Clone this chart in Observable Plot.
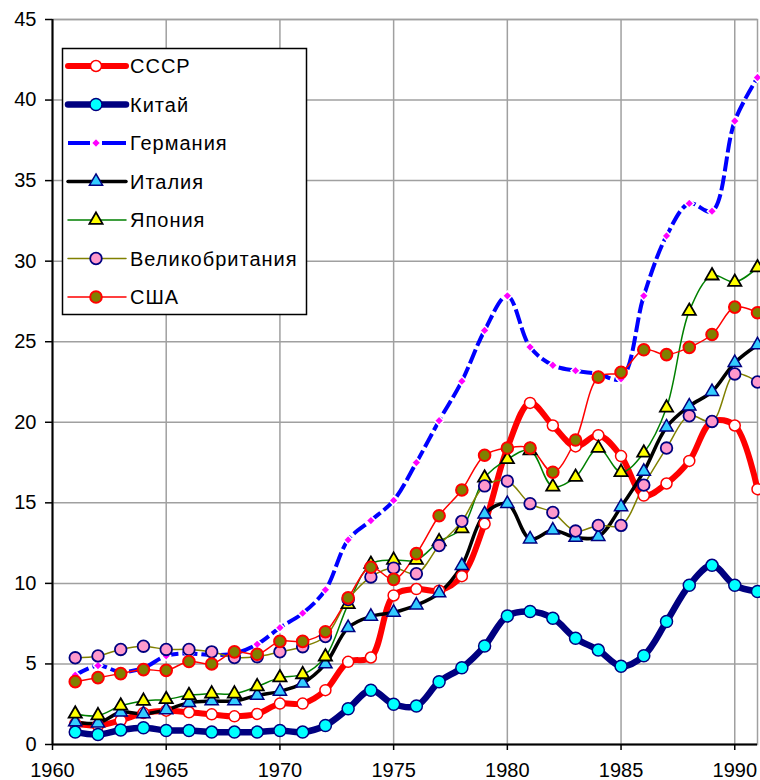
<!DOCTYPE html>
<html>
<head>
<meta charset="utf-8">
<script src="https://cdn.jsdelivr.net/npm/d3@7"></script>
<script src="https://cdn.jsdelivr.net/npm/@observablehq/plot@0.6"></script>
<style>
  html, body { margin: 0; padding: 0; background: #fff; }
  #chart { position: relative; width: 760px; height: 780px; }
</style>
</head>
<body>
<div id="chart"></div>
<script>
const years = d3.range(1961, 1992);
const xTicks = [1960, 1965, 1970, 1975, 1980, 1985, 1990];
const yTicks = [0, 5, 10, 15, 20, 25, 30, 35, 40, 45];

const seriesNames = ["СССР", "Китай", "Германия", "Италия", "Япония", "Великобритания", "США"];

const ussr = [1.3, 1.18, 1.5, 1.95, 2.1, 2.0, 1.87, 1.75, 1.9, 2.54, 2.54, 3.37, 5.13, 5.4, 9.25, 9.65, 9.55, 10.45, 13.7, 18.4, 21.2, 19.8, 18.5, 19.2, 17.9, 15.45, 16.2, 17.6, 20.05, 19.8, 15.85];
const china = [0.77, 0.62, 0.9, 1.04, 0.87, 0.87, 0.77, 0.77, 0.77, 0.87, 0.77, 1.18, 2.22, 3.37, 2.5, 2.39, 3.89, 4.76, 6.11, 7.98, 8.25, 7.84, 6.59, 5.86, 4.86, 5.51, 7.63, 9.88, 11.12, 9.88, 9.5];
const germany = [4.3, 4.9, 4.5, 4.75, 5.5, 5.65, 5.55, 5.65, 6.22, 7.25, 8.15, 9.6, 12.7, 13.9, 15.15, 17.5, 20.1, 22.55, 25.7, 27.85, 24.67, 23.54, 23.2, 23.0, 22.7, 27.85, 31.57, 33.58, 33.1, 38.7, 41.4];
const italy = [1.4, 1.33, 2.0, 1.9, 2.15, 2.6, 2.7, 2.7, 3.05, 3.3, 3.8, 5.0, 7.25, 7.95, 8.2, 8.65, 9.4, 11.1, 14.3, 14.95, 12.75, 13.3, 12.85, 12.9, 14.75, 16.95, 19.7, 21.0, 21.9, 23.7, 24.8];
const japan = [1.9, 1.8, 2.4, 2.7, 2.8, 3.05, 3.15, 3.15, 3.6, 4.15, 4.35, 5.45, 8.7, 11.2, 11.45, 11.45, 12.6, 13.4, 16.55, 17.7, 18.25, 16.0, 16.6, 18.4, 16.9, 18.1, 20.9, 26.9, 29.1, 28.7, 29.6];
const britain = [5.38, 5.5, 5.9, 6.1, 5.9, 5.9, 5.75, 5.4, 5.45, 5.75, 6.07, 6.7, 9.0, 10.4, 10.95, 10.6, 12.35, 13.85, 16.05, 16.35, 14.95, 14.4, 13.25, 13.6, 13.6, 16.1, 18.4, 20.4, 20.05, 23.0, 22.5];
const usa = [3.9, 4.15, 4.4, 4.65, 4.6, 5.15, 5.0, 5.75, 5.6, 6.4, 6.4, 7.0, 9.1, 11.0, 10.25, 11.85, 14.2, 15.8, 17.95, 18.4, 18.4, 16.9, 18.9, 22.8, 23.1, 24.5, 24.2, 24.65, 25.45, 27.15, 26.8];

const seriesValues = [ussr, china, germany, italy, japan, britain, usa];

// styles per series (same order as seriesNames)
const styles = [
  {line: "#ff0000", width: 6, dash: null, symbol: "circle", r: 5.5, fill: "#ffffff", mstroke: "#ff0000", mwidth: 1.5},
  {line: "#000080", width: 6.5, dash: null, symbol: "circle", r: 6, fill: "#00ffff", mstroke: "#000080", mwidth: 1.5},
  {line: "#0000ff", width: 4, dash: "15,4", symbol: "diamond2", r: 4.2, fill: "#ff00ff", mstroke: "#ffffff", mwidth: 1.5},
  {line: "#000000", width: 3.5, dash: null, symbol: "triangle", r: 4.9, fill: "#33ccff", mstroke: "#000080", mwidth: 1.5},
  {line: "#008000", width: 1.5, dash: null, symbol: "triangle", r: 4.9, fill: "#ffff00", mstroke: "#000000", mwidth: 1.8},
  {line: "#808000", width: 1.5, dash: null, symbol: "circle", r: 5.8, fill: "#ff99cc", mstroke: "#000080", mwidth: 1.8},
  {line: "#ff0000", width: 1.5, dash: null, symbol: "circle", r: 5.8, fill: "#808000", mstroke: "#ff0000", mwidth: 2}
];

const tables = seriesNames.map((name, i) => years.map((y, j) => ({year: y, value: seriesValues[i][j], series: name})));

const marks = [
  Plot.gridX(xTicks, {stroke: "#a0a0a0", strokeOpacity: 1, strokeWidth: 1.5}),
  Plot.gridY(yTicks, {stroke: "#a0a0a0", strokeOpacity: 1, strokeWidth: 1.5}),
  Plot.frame({stroke: "#a0a0a0", strokeWidth: 1.5}),
  Plot.axisX({ticks: xTicks, tickFormat: d => String(d), tickSize: 6, tickPadding: 12, fontSize: 20, stroke: "#000", strokeWidth: 1.5}),
  Plot.axisY({ticks: yTicks, tickSize: 7, tickPadding: 9, fontSize: 20, stroke: "#000", strokeWidth: 1.5}),
  Plot.ruleX([1960], {stroke: "#000", strokeWidth: 2}),
  Plot.ruleY([0], {stroke: "#000", strokeWidth: 2})
];

tables.forEach((t, i) => {
  const s = styles[i];
  marks.push(Plot.line(t, {x: "year", y: "value", stroke: s.line, strokeWidth: s.width, strokeDasharray: s.dash, curve: "catmull-rom", strokeLinejoin: "round", strokeLinecap: s.dash ? "butt" : "round"}));
});
tables.forEach((t, i) => {
  const s = styles[i];
  marks.push(Plot.dot(t, {x: "year", y: "value", symbol: () => s.symbol, r: s.r, fill: s.fill, stroke: s.mstroke, strokeWidth: s.mwidth}));
});

const chart = Plot.plot({
  width: 760,
  height: 780,
  marginLeft: 52,
  marginRight: 3,
  marginTop: 19,
  marginBottom: 36,
  x: {domain: [1960, 1991], label: null},
  y: {domain: [0, 45], label: null},
  symbol: {type: "identity"},
  style: {fontFamily: "'Liberation Sans', Arial, sans-serif", fontSize: "20px", color: "#000", background: "#fff", overflow: "visible"},
  marks
});

// Legend inside the plot area
const svg = d3.select(chart);
const lg = svg.append("g")
  .attr("font-family", "'Liberation Sans', Arial, sans-serif")
  .attr("font-size", 20)
  .attr("text-anchor", "start");
lg.append("rect").attr("x", 62.5).attr("y", 48.5).attr("width", 244).attr("height", 266)
  .attr("fill", "#fff").attr("stroke", "#000").attr("stroke-width", 1.5);
const symbolTypes = {circle: d3.symbolCircle, triangle: d3.symbolTriangle, diamond2: d3.symbolDiamond2};
seriesNames.forEach((name, i) => {
  const s = styles[i];
  const cy = 66 + i * 38.5;
  const g = lg.append("g");
  if (s.dash) {
    g.append("line").attr("x1", 68).attr("x2", 90).attr("y1", cy).attr("y2", cy).attr("stroke", s.line).attr("stroke-width", s.width);
    g.append("line").attr("x1", 102).attr("x2", 126).attr("y1", cy).attr("y2", cy).attr("stroke", s.line).attr("stroke-width", s.width);
  } else {
    g.append("line").attr("x1", 68).attr("x2", 126).attr("y1", cy).attr("y2", cy).attr("stroke", s.line).attr("stroke-width", s.width).attr("stroke-linecap", "round");
  }
  g.append("path").attr("transform", `translate(96,${cy})`)
    .attr("d", d3.symbol().type(symbolTypes[s.symbol]).size(Math.PI * s.r * s.r)())
    .attr("fill", s.fill).attr("stroke", s.mstroke).attr("stroke-width", s.mwidth);
  g.append("text").attr("x", 130).attr("y", cy).attr("dy", "0.36em")
    .attr("fill", "#000").attr("letter-spacing", "1px").attr("text-anchor", "start").text(name);
});

document.getElementById("chart").appendChild(chart);
</script>
</body>
</html>
